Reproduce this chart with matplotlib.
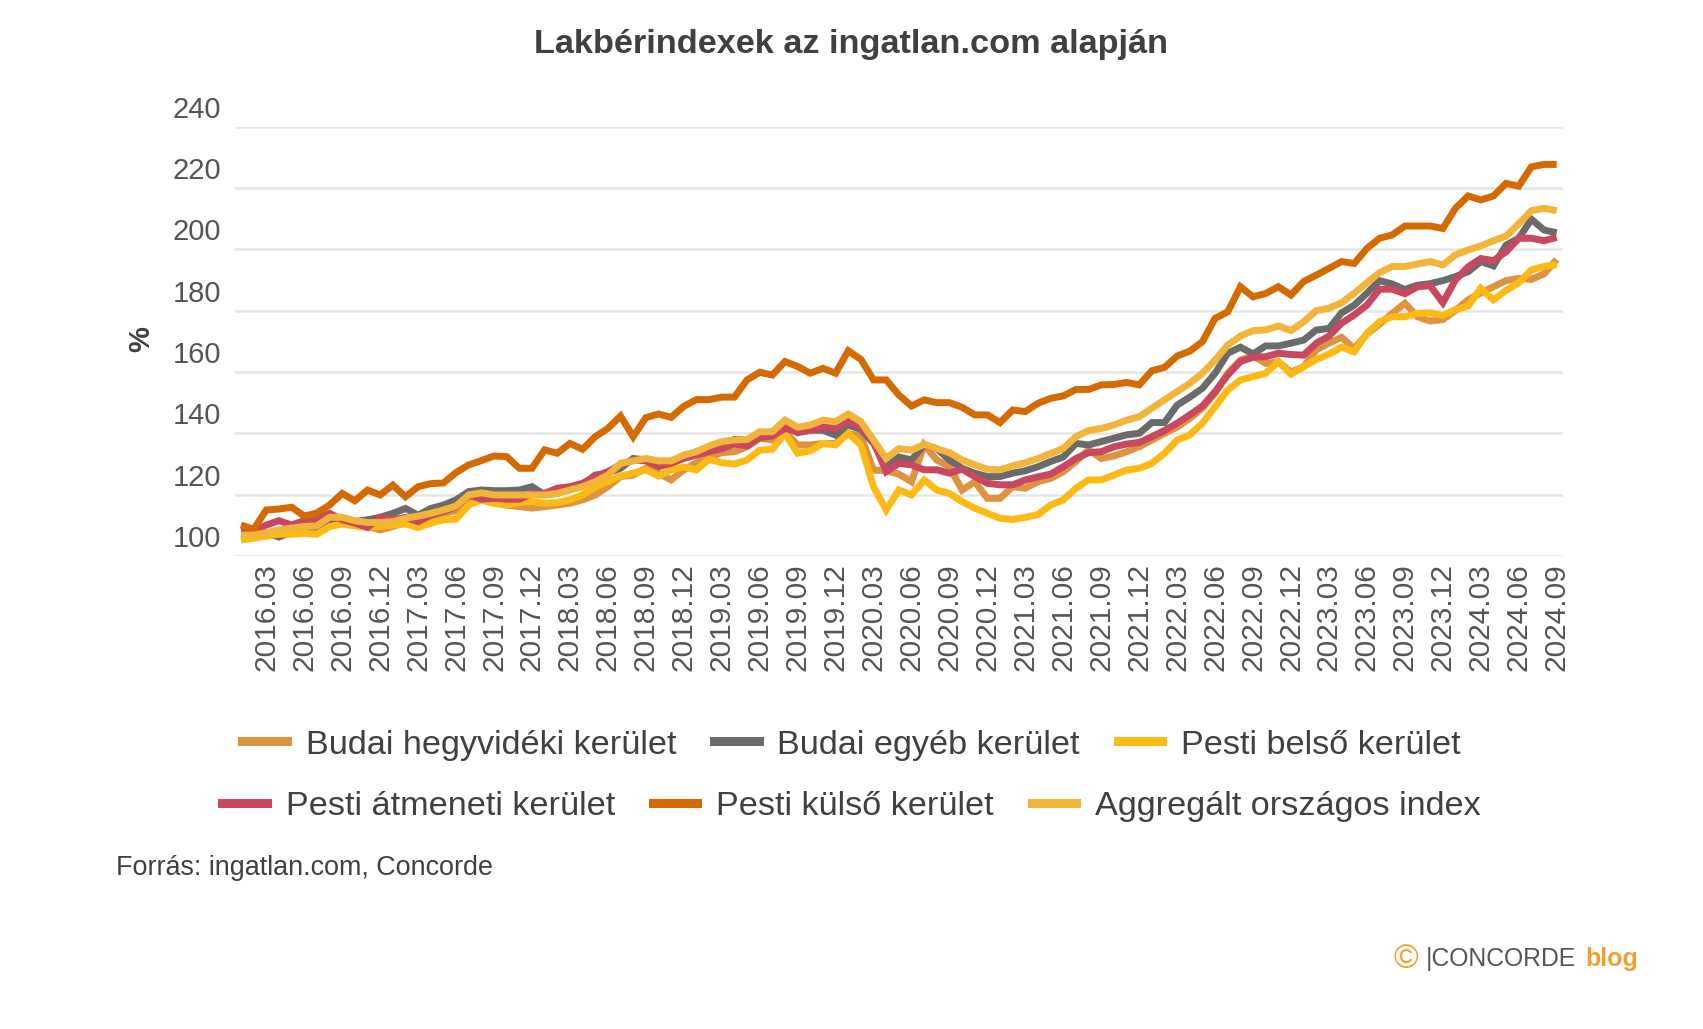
import numpy as np
import matplotlib.pyplot as plt
from matplotlib.transforms import ScaledTranslation
from matplotlib.lines import Line2D

plt.rcParams['font.family'] = ['Liberation Sans', 'DejaVu Sans']

# monthly, 2016.01 .. 2024.09
months = [f"{y}.{m:02d}" for y in range(2016, 2025) for m in range(1, 13)][:105]

budai_hegyvideki = [
    107.4, 107.1, 107.4, 106.1, 107.9, 108.5, 108.5, 110.7, 111.5, 110.1, 109.6, 108.5,
    109.6, 110.9, 112.0, 111.8, 113.9, 114.8, 118.0, 118.3, 117.2, 116.6, 116.1, 115.6,
    116.1, 116.6, 117.2, 118.3, 119.9, 122.6, 125.9, 126.4, 128.6, 127.0, 124.8, 128.1,
    130.4, 132.3, 133.7, 134.0, 135.6, 138.4, 137.8, 140.5, 136.2, 136.2, 136.7, 136.7,
    140.0, 139.1, 128.0, 127.8, 126.7, 124.2, 136.2, 131.3, 129.1, 121.5, 124.2, 118.8,
    118.8, 122.6, 122.1, 124.2, 125.3, 127.5, 130.8, 134.6, 131.8, 132.6, 134.0, 135.6,
    137.8, 140.0, 142.0, 144.9, 148.2, 153.1, 159.6, 163.9, 165.2, 162.8, 163.3, 160.0,
    161.7, 167.2, 169.4, 171.3, 167.6, 172.4, 175.6, 179.1, 182.4, 178.0, 176.6, 177.1,
    180.1, 183.5, 185.8, 187.8, 189.8, 190.5, 190.2, 192.0, 196.7, 197.6,
][:105]

budai_egyeb = [
    108.7, 108.5, 107.4, 106.3, 108.0, 109.1, 109.6, 111.8, 112.3, 111.2, 111.8, 112.6,
    113.9, 115.5, 113.3, 115.5, 116.6, 118.3, 121.0, 121.5, 121.3, 121.3, 121.5, 122.6,
    120.0, 120.4, 122.1, 123.2, 126.4, 127.0, 128.6, 131.8, 131.3, 130.2, 130.4, 132.3,
    134.0, 135.0, 136.7, 138.0, 137.8, 139.2, 140.5, 142.7, 140.2, 141.0, 141.0, 139.4,
    142.7, 141.3, 136.7, 129.1, 132.3, 131.3, 136.2, 135.0, 131.3, 128.6, 127.0, 125.9,
    125.9, 127.0, 127.8, 129.1, 130.8, 132.3, 136.7, 136.2, 137.3, 138.4, 139.5, 140.0,
    143.5, 143.5, 149.2, 151.8, 154.7, 159.6, 166.1, 168.1, 165.9, 168.5, 168.5, 169.4,
    170.4, 173.7, 174.2, 179.3, 181.8, 185.7, 189.8, 188.7, 186.9, 188.3, 188.8, 189.8,
    191.1, 192.7, 196.0, 194.6, 201.4, 203.6, 209.8, 206.3, 205.4,
]

pesti_belso = [
    105.2, 105.8, 106.5, 107.1, 107.1, 107.4, 107.1, 109.6, 110.4, 109.8, 109.3, 109.6,
    110.1, 110.4, 109.3, 110.7, 111.8, 112.0, 116.6, 118.3, 117.2, 116.6, 117.4, 117.7,
    117.2, 117.4, 118.3, 119.9, 122.6, 124.2, 126.1, 127.0, 128.1, 126.1, 128.1, 129.0,
    128.1, 131.5, 130.4, 130.0, 131.3, 134.5, 134.8, 140.0, 133.5, 134.3, 136.7, 136.2,
    140.0, 136.2, 122.6, 115.0, 121.5, 119.9, 124.8, 121.5, 120.4, 117.7, 115.6, 113.9,
    112.3, 111.9, 112.6, 113.5, 116.6, 118.3, 122.1, 124.8, 124.8, 126.4, 128.0, 128.6,
    130.2, 133.5, 137.8, 139.5, 143.3, 148.7, 154.1, 157.4, 158.5, 159.6, 163.4, 159.3,
    161.7, 164.1, 165.8, 168.1, 166.6, 172.6, 176.4, 178.0, 178.0, 179.1, 179.3, 178.4,
    180.4, 181.5, 187.3, 183.5, 186.6, 189.1, 193.3, 194.4, 195.0,
]

pesti_atmeneti = [
    107.9, 107.9, 110.1, 111.5, 110.1, 111.5, 111.8, 113.9, 111.8, 110.7, 109.3, 112.6,
    111.8, 112.6, 111.2, 113.3, 114.5, 116.1, 119.9, 118.5, 118.8, 118.5, 118.5, 120.3,
    120.4, 122.1, 122.6, 123.7, 125.9, 127.5, 129.7, 131.3, 131.0, 129.1, 130.2, 131.8,
    132.9, 134.0, 135.0, 136.5, 135.9, 138.6, 139.1, 141.6, 140.5, 141.0, 142.1, 141.6,
    144.0, 142.1, 137.3, 127.5, 130.2, 129.7, 128.1, 128.1, 127.0, 128.3, 125.9, 123.7,
    123.2, 123.2, 124.8, 125.8, 126.7, 129.1, 131.8, 133.7, 134.0, 135.6, 136.5, 137.0,
    138.9, 140.9, 143.3, 146.0, 148.9, 153.6, 159.0, 163.4, 164.8, 165.0, 166.1, 165.7,
    165.5, 169.4, 171.7, 175.9, 178.6, 181.8, 187.0, 187.0, 185.5, 187.8, 188.1, 182.6,
    190.0, 194.3, 197.0, 196.3, 199.2, 203.6, 203.6, 202.8, 203.9,
]

pesti_kulso = [
    110.1, 108.7, 115.0, 115.3, 115.9, 113.0, 114.0, 116.6, 120.4, 118.0, 121.5, 119.9,
    123.1, 119.3, 122.6, 123.6, 123.8, 127.2, 129.7, 131.1, 132.6, 132.4, 128.6, 128.6,
    134.6, 133.5, 136.7, 134.8, 138.9, 141.6, 145.6, 138.9, 145.1, 146.3, 145.2, 148.8,
    151.0, 151.0, 151.8, 151.8, 157.4, 159.9, 159.0, 163.4, 161.8, 159.6, 161.2, 159.6,
    166.9, 164.1, 157.4, 157.4, 152.5, 148.9, 150.9, 150.0, 150.0, 148.5, 146.0, 146.0,
    143.5, 147.6, 147.1, 149.8, 151.4, 152.2, 154.3, 154.3, 155.8, 155.9, 156.6, 155.8,
    160.4, 161.5, 165.2, 166.8, 169.9, 177.5, 179.6, 187.8, 184.5, 185.6, 187.8, 185.1,
    189.5, 191.6, 193.8, 196.0, 195.4, 200.3, 203.6, 204.7, 207.6, 207.6, 207.6, 206.8,
    213.4, 217.4, 216.1, 217.4, 221.5, 220.6, 226.9, 227.7, 227.7,
]

aggregalt = [
    106.8, 106.8, 107.6, 108.5, 109.1, 109.6, 109.8, 112.6, 112.6, 111.5, 110.9, 110.9,
    111.2, 112.3, 113.0, 113.9, 115.0, 116.3, 119.9, 120.6, 119.9, 119.9, 119.9, 119.9,
    119.9, 120.4, 121.5, 122.6, 124.2, 126.4, 130.2, 131.0, 131.8, 131.0, 131.0, 132.9,
    134.0, 135.9, 137.3, 137.8, 138.0, 140.5, 140.5, 144.3, 142.0, 142.7, 144.3, 143.8,
    146.3, 143.8, 137.8, 131.8, 135.0, 134.5, 136.4, 135.0, 133.7, 131.3, 129.7, 128.3,
    128.1, 129.4, 130.4, 131.8, 133.4, 135.1, 138.9, 140.9, 141.6, 142.7, 144.3, 145.4,
    148.2, 150.9, 153.6, 156.3, 159.6, 163.9, 168.8, 171.7, 173.5, 173.7, 175.0, 173.5,
    176.4, 180.0, 180.8, 182.6, 185.7, 189.1, 192.4, 194.4, 194.4, 195.2, 196.0, 194.9,
    198.2, 199.8, 201.1, 202.8, 204.3, 208.3, 212.6, 213.4, 212.6,
]

series = [
    ("Budai hegyvidéki kerület", budai_hegyvideki, "#DD9340"),
    ("Budai egyéb kerület", budai_egyeb, "#6B6B6B"),
    ("Pesti belső kerület", pesti_belso, "#FDBA14"),
    ("Pesti átmeneti kerület", pesti_atmeneti, "#C9485F"),
    ("Pesti külső kerület", pesti_kulso, "#D46A00"),
    ("Aggregált országos index", aggregalt, "#F3B43A"),
]

yticks = [100, 120, 140, 160, 180, 200, 220, 240]

fig = plt.figure(figsize=(17.03, 10.29), dpi=100)
ax = fig.add_axes([0.1378, 0.4597, 0.7800, 0.4172])

x = np.arange(len(months))
for name, vals, col in series:
    ax.plot(x, vals, color=col, lw=5.0, label=name, solid_joinstyle='miter',
            solid_capstyle='butt')

ax.set_xlim(-0.5, len(months) - 0.5)
ax.set_ylim(100, 240)
ax.set_yticks(yticks)
ax.grid(axis='y', color='#E6E6E6', lw=1.8)
ax.set_axisbelow(True)
for s in ax.spines.values():
    s.set_visible(False)

ax.set_xticks(x[2::3])
ax.set_xticklabels(months[2::3], rotation=90, fontsize=21.5, color='#555555')
ax.tick_params(axis='x', length=0, pad=5)
ax.tick_params(axis='y', length=0, pad=10, labelsize=21, labelcolor='#555555')
for lab in ax.get_yticklabels():
    lab.set_transform(lab.get_transform() + ScaledTranslation(0, 0.20, fig.dpi_scale_trans))

fig.text(0.0828, 0.6706, "%", rotation=90, fontsize=21, fontweight='bold',
         color='#404040', ha='center', va='center')
fig.text(0.5, 0.957, "Lakbérindexek az ingatlan.com alapján", fontsize=24.7,
         fontweight='bold', color='#404040', ha='center', va='center')

handles = [Line2D([], [], color=c, lw=6.5) for _, _, c in series]
names = [n for n, _, _ in series]
kw = dict(loc='center', ncol=3, frameon=False, fontsize=24.7, handlelength=1.3,
          handletextpad=0.55, columnspacing=1.1, bbox_transform=fig.transFigure,
          labelcolor='#404040')
leg1 = fig.legend(handles[:3], names[:3], bbox_to_anchor=(0.5, 0.276), **kw)
leg2 = fig.legend(handles[3:], names[3:], bbox_to_anchor=(0.5, 0.216), **kw)

fig.text(0.068, 0.156, "Forrás: ingatlan.com, Concorde", fontsize=19.4,
         color='#404040', ha='left', va='center')

# logo
fig.text(0.8180, 0.068, "©", fontsize=24, color='#F0A030', ha='left', va='center')
fig.text(0.8370, 0.068, "|CONCORDE", fontsize=17.8, color='#555555', ha='left', va='center')
fig.text(0.9310, 0.068, "blog", fontsize=18, color='#F0A030', fontweight='bold',
         ha='left', va='center')

fig.savefig("out.png", dpi=100)
